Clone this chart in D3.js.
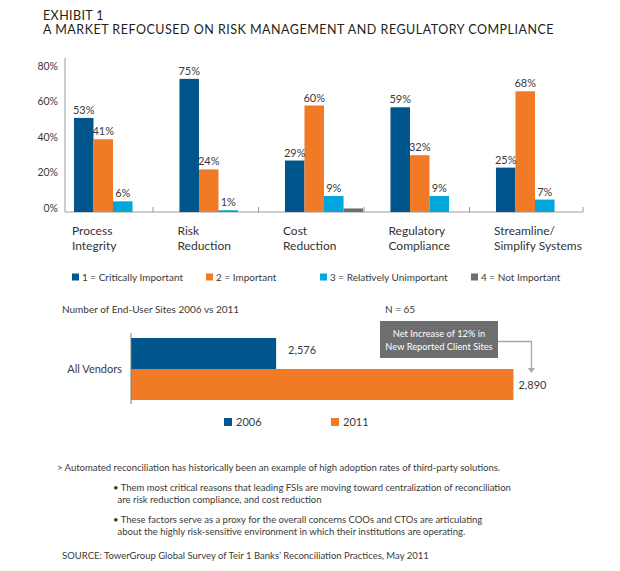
<!DOCTYPE html>
<html>
<head>
<meta charset="utf-8">
<script src="https://cdn.jsdelivr.net/npm/d3@7"></script>
<style>
  body { margin: 0; background: #fff; }
  svg { display: block; font-family: Lato, "Open Sans", sans-serif; }
  text { fill: #3a3a3a; }
</style>
</head>
<body>
<div class="chart"></div>
<script>
// importance survey, % of respondents
var categories = ['Process Integrity', 'Risk Reduction', 'Cost Reduction', 'Regulatory Compliance', 'Streamline/ Simplify Systems'];
var seriesNames = ['1 = Critically Important', '2 = Important', '3 = Relatively Unimportant', '4 = Not Important'];
var critical = [53, 75, 29, 59, 25];
var important = [41, 24, 60, 32, 68];
var relUnimportant = [6, 1, 9, 9, 7];
var notImportant = [0, 0, 2, 0, 0];
var yTicks = [0, 20, 40, 60, 80];

// end-user sites
var years = ['2006', '2011'];
var sites = [2576, 2890];
var vendor = 'All Vendors';

var colors = ['#00558c', '#f07a26', '#00a6dc', '#6d6e71'];

var svg = d3.select('.chart')
  .append('svg')
    .attr('width', 620)
    .attr('height', 571);

// title
svg.append('text')
  .attr('x', 43).attr('y', 19.5)
  .style('font-size', '12.5px').style('letter-spacing', '0.4px').style('fill', '#231f20')
  .text('EXHIBIT 1');
svg.append('text')
  .attr('x', 43).attr('y', 34)
  .style('font-size', '12.5px').style('letter-spacing', '0.5px').style('fill', '#231f20')
  .text('A MARKET REFOCUSED ON RISK MANAGEMENT AND REGULATORY COMPLIANCE');

// ---- grouped bars
var rows = categories.map((c, i) => ({
  cat: c,
  vals: [critical[i], important[i], relUnimportant[i], notImportant[i]]
}));

var x0 = d3.scaleBand()
  .domain(categories)
  .range([65, 583])
  .paddingInner(0.26)
  .paddingOuter(0.085);

var x1 = d3.scaleBand()
  .domain(seriesNames)
  .range([0, x0.bandwidth()]);

var y = d3.scaleLinear()
  .domain([0, 80])
  .range([212, 70]);

var yAxis = svg.append('g')
  .attr('transform', 'translate(65,0)')
  .call(d3.axisLeft(y).tickValues(yTicks).tickFormat(d => d + '%').tickSize(0).tickPadding(7));
yAxis.select('.domain').remove();
yAxis.selectAll('text')
  .attr('y', -4)
  .style('font-size', '10.5px')
  .style('font-family', 'Lato, sans-serif')
  .style('fill', '#3a3a3a');

svg.append('line')
  .attr('x1', 65).attr('x2', 65).attr('y1', 58).attr('y2', y(0))
  .style('stroke', '#9a9a9a');
svg.append('line')
  .attr('x1', 65).attr('x2', x0.range()[1]).attr('y1', y(0)).attr('y2', y(0))
  .style('stroke', '#9a9a9a');

// small ticks between groups
var tickXs = categories.slice(0, 4).map(c => x0(c) + x0.bandwidth() + 1).concat([x0.range()[1]]);
svg.selectAll('.sep')
  .data(tickXs)
  .enter()
    .append('line')
    .attr('x1', d => d).attr('x2', d => d)
    .attr('y1', y(0) - 5).attr('y2', y(0))
    .style('stroke', '#9a9a9a');

var groups = svg.selectAll('.grp')
  .data(rows)
  .enter()
    .append('g')
    .attr('transform', d => 'translate(' + x0(d.cat) + ',0)');

groups.selectAll('rect')
  .data(d => d.vals.map((v, s) => ({ s: s, v: v })))
  .enter()
    .append('rect')
    .attr('x', d => x1(seriesNames[d.s]))
    .attr('y', d => y(d.v))
    .attr('width', x1.bandwidth())
    .attr('height', d => y(0) - y(d.v))
    .style('fill', d => colors[d.s]);

groups.selectAll('.val')
  .data(d => d.vals.slice(0, 3).map((v, s) => ({ s: s, v: v })))
  .enter()
    .append('text')
    .attr('x', d => x1(seriesNames[d.s]) + x1.bandwidth() / 2)
    .attr('y', d => y(d.v) - 4)
    .attr('text-anchor', 'middle')
    .style('font-size', '11px')
    .text(d => d.v + '%');

// category labels on two lines
groups.each(function (d) {
  var k = d.cat.indexOf(' ');
  var t = d3.select(this).append('text')
    .attr('x', -2)
    .style('font-size', '12px')
    .style('fill', '#333');
  t.append('tspan').attr('x', -2).attr('y', 234.5).text(d.cat.slice(0, k));
  t.append('tspan').attr('x', -2).attr('y', 250).text(d.cat.slice(k + 1));
});

// legend
var legX = [72, 206, 320, 471];
var leg = svg.selectAll('.leg')
  .data(seriesNames)
  .enter()
    .append('g')
    .attr('transform', (d, i) => 'translate(' + legX[i] + ',277)');
leg.append('rect')
  .attr('x', 0).attr('y', -3.5).attr('width', 7).attr('height', 7)
  .style('fill', (d, i) => colors[i]);
leg.append('text')
  .attr('x', 10).attr('y', 3.5)
  .style('font-size', '10px')
  .text(d => d);

// ---- end-user sites bars
svg.append('text')
  .attr('x', 62).attr('y', 312.5)
  .style('font-size', '10px')
  .text('Number of End-User Sites 2006 vs 2011');
svg.append('text')
  .attr('x', 385).attr('y', 312.5)
  .style('font-size', '10px')
  .text('N = 65');

var yb = d3.scaleBand()
  .domain(years)
  .range([338, 400]);

var xb = d3.scaleLinear()
  .domain([2384, 2900])
  .range([131, 521]);

svg.selectAll('.hbar')
  .data(sites)
  .enter()
    .append('rect')
    .attr('x', xb.range()[0])
    .attr('y', (d, i) => yb(years[i]))
    .attr('width', d => xb(d) - xb.range()[0])
    .attr('height', yb.bandwidth())
    .style('fill', (d, i) => colors[i]);

svg.selectAll('.hval')
  .data(sites)
  .enter()
    .append('text')
    .attr('x', (d, i) => xb(d) + (i ? 5 : 12))
    .attr('y', (d, i) => yb(years[i]) + yb.bandwidth() / 2 + (i ? 1 : -3))
    .attr('dy', '0.35em')
    .style('font-size', '11px')
    .text(d => d3.format(',')(d));

svg.append('line')
  .attr('x1', 131).attr('x2', 131).attr('y1', 333).attr('y2', 404)
  .style('stroke', '#7a7a7a');

svg.append('text')
  .attr('x', 122).attr('y', 369)
  .attr('dy', '0.35em')
  .attr('text-anchor', 'end')
  .style('font-size', '11px')
  .text(vendor);

// annotation
svg.append('rect')
  .attr('x', 380).attr('y', 321).attr('width', 118).attr('height', 37)
  .style('fill', '#6d6e70');
svg.append('text')
  .attr('x', 439).attr('y', 333.5).attr('dy', '0.35em')
  .attr('text-anchor', 'middle')
  .style('font-size', '9.3px').style('fill', '#fff')
  .text('Net Increase of 12% in');
svg.append('text')
  .attr('x', 439).attr('y', 346.5).attr('dy', '0.35em')
  .attr('text-anchor', 'middle')
  .style('font-size', '9.3px').style('fill', '#fff')
  .text('New Reported Client Sites');
var ax = xb(sites[1]) + 18;
svg.append('path')
  .attr('d', 'M498,341.5H' + ax + 'V369')
  .style('fill', 'none')
  .style('stroke', '#a8a8a8')
  .style('stroke-width', 1.3);
svg.append('path')
  .attr('d', 'M' + (ax - 3.5) + ',368H' + (ax + 3.5) + 'L' + ax + ',373Z')
  .style('fill', '#a8a8a8');

// legend bottom
var legB = svg.selectAll('.legb')
  .data(years)
  .enter()
    .append('g')
    .attr('transform', (d, i) => 'translate(' + (224 + i * 107) + ',422)');
legB.append('rect')
  .attr('x', 0).attr('y', -4).attr('width', 8).attr('height', 8)
  .style('fill', (d, i) => colors[i]);
legB.append('text')
  .attr('x', 12).attr('y', 4)
  .style('font-size', '11px')
  .text(d => d);

// notes
var notes = [
  { x: 57, y: 470.5, t: '> Automated reconciliation has historically been an example of high adoption rates of third-party solutions.' },
  { x: 113, y: 490.5, t: '\u2022 Them most critical reasons that leading FSIs are moving toward centralization of reconciliation' },
  { x: 117.5, y: 503, t: 'are risk reduction compliance, and cost reduction' },
  { x: 113, y: 523, t: '\u2022 These factors serve as a proxy for the overall concerns COOs and CTOs are articulating' },
  { x: 117.5, y: 535, t: 'about the highly risk-sensitive environment in which their institutions are operating.' },
  { x: 62, y: 559, t: 'SOURCE: TowerGroup Global Survey of Teir 1 Banks\u2019 Reconciliation Practices, May 2011' }
];
svg.selectAll('.note')
  .data(notes)
  .enter()
    .append('text')
    .attr('x', d => d.x)
    .attr('y', d => d.y)
    .style('font-size', '9.5px')
    .text(d => d.t);
</script>
</body>
</html>
